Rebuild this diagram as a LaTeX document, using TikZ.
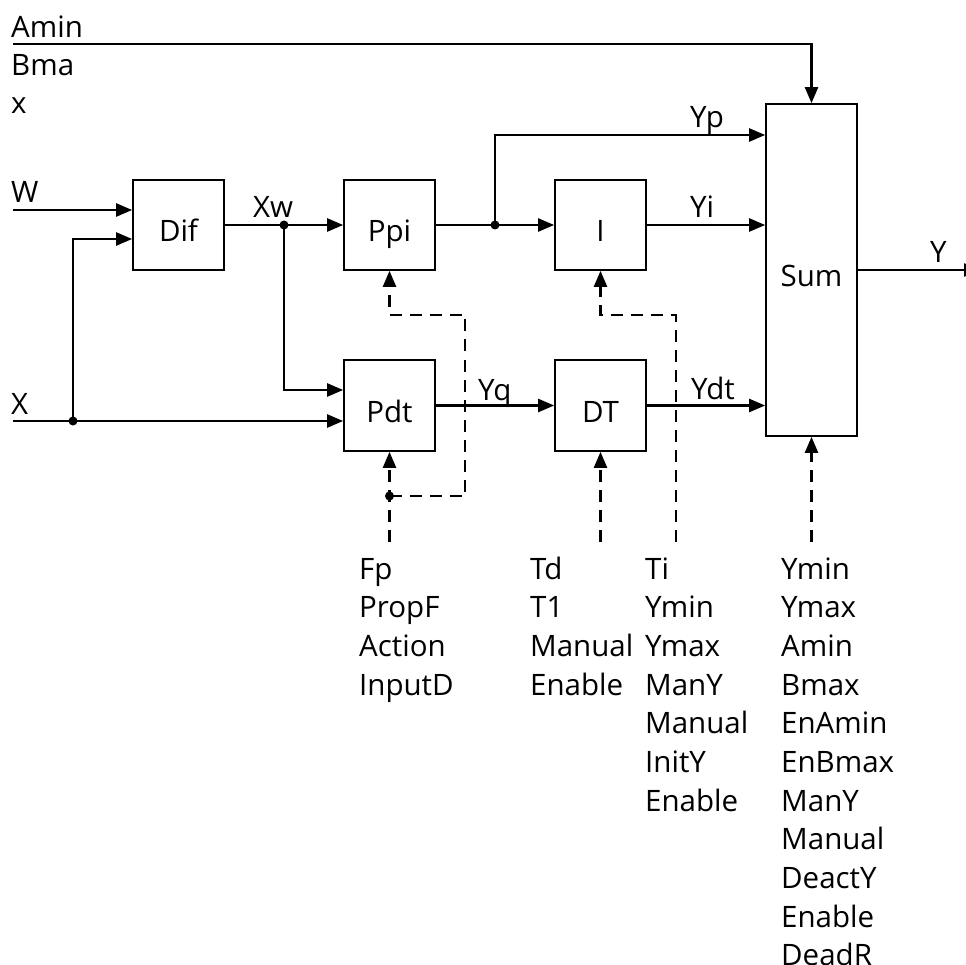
\documentclass[tikz,border=0pt]{standalone}
\usepackage{fontspec}
\setmainfont{Open Sans}
\usetikzlibrary{arrows.meta}
\newcommand\lblfont{\fontsize{29.5pt}{38pt}\selectfont}
\begin{document}
\begin{tikzpicture}[x=1pt,y=-1pt,
  every node/.style={font=\lblfont},
  blk/.style={draw, line width=1.7pt, minimum width=91pt, minimum height=90pt, inner sep=0pt, text height=34pt, text depth=0pt},
  conn/.style={line width=2.4pt, -{Triangle[length=16pt,width=13pt]}},
  ctl/.style={conn, dash pattern=on 12pt off 8pt},
  lbl/.style={anchor=base west, inner sep=0pt},
  jdot/.style={circle, fill, inner sep=0pt, minimum size=9pt}]
\useasboundingbox (0,0) rectangle (966,965);
% blocks
\node[blk] (dif) at (178.5,225) {Dif};
\node[blk] (ppi) at (389.5,225) {Ppi};
\node[blk] (ii) at (600.5,225) {I};
\node[blk, minimum height=91pt] (pdt) at (389.5,405.5) {Pdt};
\node[blk, minimum height=91pt] (dt) at (600.5,405.5) {DT};
\node[blk, minimum height=332pt] (sum) at (811.5,270) {Sum};
% junctions and free ends
\coordinate (ain) at (13,44);
\coordinate (win) at (13,210);
\coordinate (xin) at (13,421);
\node[jdot] (xd) at (73,421) {};
\node[jdot] (xwd) at (284,225) {};
\node[jdot] (ppd) at (495,225) {};
\coordinate (yout) at (980,270);
\coordinate (fpe) at (389.5,542);
\node[jdot] (fpd) at (389.5,496) {};
\coordinate (fpk) at (465,315);
\coordinate (tde) at (600.5,542);
\coordinate (tie) at (676,542);
\coordinate (tik) at (676,315);
\coordinate (sue) at (811.5,542);
% connectors
\draw[conn] (ain) -| (sum.north);
\draw[conn] (win) -- ([yshift=15pt]dif.west);
\draw[conn] (xin) -- ([yshift=-15.5pt]pdt.west);
\draw[conn] (xd.center) |- ([yshift=-14pt]dif.west);
\draw[conn] (dif.east) -- (ppi.west);
\draw[conn] (xwd.center) |- ([yshift=15.5pt]pdt.west);
\draw[conn] (ppi.east) -- (ii.west);
\draw[conn] (ppd.center) |- ([yshift=135pt]sum.west);
\draw[conn] (ii.east) -- (ii.east -| sum.west);
\draw[conn] (pdt.east) -- (dt.west);
\draw[conn] (dt.east) -- (dt.east -| sum.west);
\draw[conn] (sum.east) -- (yout);
\draw[ctl] (fpe) -- (pdt.south);
\draw[ctl] (fpd.center) -| (fpk) -| (ppi.south);
\draw[ctl] (tde) -- (dt.south);
\draw[ctl] (tie) -- (tik) -| (ii.south);
\draw[ctl] (sue) -- (sum.south);
% labels
\node[lbl] (lamin) at (11,38) {Amin};
\node[lbl] (lbma) at (11,76) {Bma};
\node[lbl] (lx1) at (11,114) {x};
\node[lbl] (lw) at (11,203) {W};
\node[lbl] (lx) at (11,414) {X};
\node[lbl] (lxw) at (253,218) {Xw};
\node[lbl] (lyp) at (690,128) {Yp};
\node[lbl] (lyi) at (690,218) {Yi};
\node[lbl] (lyq) at (478,400) {Yq};
\node[lbl] (lydt) at (691,399) {Ydt};
\node[lbl] (ly) at (930,263) {Y};
% parameter lists
\foreach \t [count=\i] in {Fp,PropF,Action,InputD}
  \node[lbl] (pa\i) at (359,579+38.67*\i-38.67) {\t};
\foreach \t [count=\i] in {Td,T1,Manual,Enable}
  \node[lbl] (pb\i) at (530,579+38.67*\i-38.67) {\t};
\foreach \t [count=\i] in {Ti,Ymin,Ymax,ManY,Manual,InitY,Enable}
  \node[lbl] (pc\i) at (645,579+38.67*\i-38.67) {\t};
\foreach \t [count=\i] in {Ymin,Ymax,Amin,Bmax,EnAmin,EnBmax,ManY,Manual,DeactY,Enable,DeadR}
  \node[lbl] (pd\i) at (781,579+38.67*\i-38.67) {\t};
\end{tikzpicture}
\end{document}
